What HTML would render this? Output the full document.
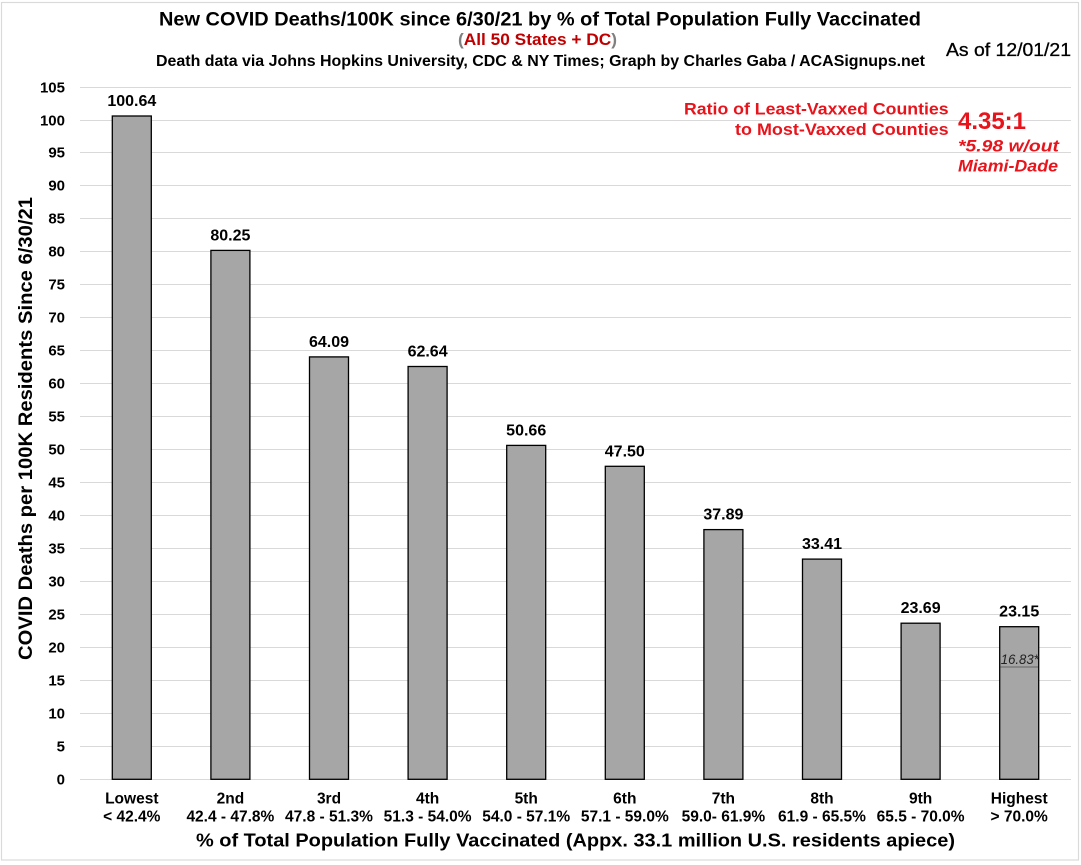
<!DOCTYPE html>
<html>
<head>
<meta charset="utf-8">
<style>
html,body{margin:0;padding:0;background:#fff;}
svg{display:block;}
text{font-family:"Liberation Sans",Arial,sans-serif;}
</style>
</head>
<body>
<svg width="1081" height="865" viewBox="0 0 1081 865" xmlns="http://www.w3.org/2000/svg">
<rect x="0" y="0" width="1081" height="865" fill="#fff"/>
<rect x="1.5" y="2.5" width="1077" height="857.5" fill="none" stroke="#dadada" stroke-width="1.2"/>

<!-- gridlines -->
<g stroke="#d9d9d9" stroke-width="1">
<line x1="80" x2="1071" y1="779.5" y2="779.5"/>
<line x1="80" x2="1071" y1="746.5" y2="746.5"/>
<line x1="80" x2="1071" y1="713.5" y2="713.5"/>
<line x1="80" x2="1071" y1="680.5" y2="680.5"/>
<line x1="80" x2="1071" y1="647.5" y2="647.5"/>
<line x1="80" x2="1071" y1="614.5" y2="614.5"/>
<line x1="80" x2="1071" y1="581.5" y2="581.5"/>
<line x1="80" x2="1071" y1="548.5" y2="548.5"/>
<line x1="80" x2="1071" y1="515.5" y2="515.5"/>
<line x1="80" x2="1071" y1="482.5" y2="482.5"/>
<line x1="80" x2="1071" y1="449.5" y2="449.5"/>
<line x1="80" x2="1071" y1="416.5" y2="416.5"/>
<line x1="80" x2="1071" y1="383.5" y2="383.5"/>
<line x1="80" x2="1071" y1="350.5" y2="350.5"/>
<line x1="80" x2="1071" y1="317.5" y2="317.5"/>
<line x1="80" x2="1071" y1="284.5" y2="284.5"/>
<line x1="80" x2="1071" y1="251.5" y2="251.5"/>
<line x1="80" x2="1071" y1="218.5" y2="218.5"/>
<line x1="80" x2="1071" y1="185.5" y2="185.5"/>
<line x1="80" x2="1071" y1="152.5" y2="152.5"/>
<line x1="80" x2="1071" y1="120.5" y2="120.5"/>
<line x1="80" x2="1071" y1="87.5" y2="87.5"/>
</g>

<!-- y tick labels -->
<g font-size="15" font-weight="bold" fill="#000" text-anchor="end">
<text x="65" y="784.5">0</text>
<text x="65" y="751.5">5</text>
<text x="65" y="718.5">10</text>
<text x="65" y="685.5">15</text>
<text x="65" y="652.5">20</text>
<text x="65" y="619.5">25</text>
<text x="65" y="586.5">30</text>
<text x="65" y="553.5">35</text>
<text x="65" y="520.5">40</text>
<text x="65" y="487.5">45</text>
<text x="65" y="454.5">50</text>
<text x="65" y="421.5">55</text>
<text x="65" y="388.5">60</text>
<text x="65" y="355.5">65</text>
<text x="65" y="322.5">70</text>
<text x="65" y="289.5">75</text>
<text x="65" y="256.5">80</text>
<text x="65" y="223.5">85</text>
<text x="65" y="190.5">90</text>
<text x="65" y="157.5">95</text>
<text x="65" y="125.5">100</text>
<text x="65" y="92.5">105</text>
</g>

<!-- bars -->
<g fill="#a6a6a6" stroke="#000" stroke-width="1.3">
<rect x="112.3" y="116.0" width="39" height="663.3"/>
<rect x="210.9" y="250.4" width="39" height="528.9"/>
<rect x="309.5" y="356.9" width="39" height="422.4"/>
<rect x="408.1" y="366.5" width="39" height="412.8"/>
<rect x="506.7" y="445.4" width="39" height="333.9"/>
<rect x="605.3" y="466.3" width="39" height="313.0"/>
<rect x="703.9" y="529.6" width="39" height="249.7"/>
<rect x="802.5" y="559.1" width="39" height="220.2"/>
<rect x="901.1" y="623.2" width="39" height="156.1"/>
<rect x="999.7" y="626.7" width="39" height="152.6"/>
</g>

<!-- 16.83* marker -->
<line x1="1000.5" x2="1038" y1="667" y2="667" stroke="#7a7a7a" stroke-width="1.6"/>
<text x="1019.8" y="664" font-size="13.5" font-style="italic" fill="#222" text-anchor="middle" textLength="38" lengthAdjust="spacingAndGlyphs">16.83*</text>

<!-- value labels -->
<g font-size="16" font-weight="bold" fill="#000" text-anchor="middle">
<text x="131.8" y="106">100.64</text>
<text x="230.4" y="240.4">80.25</text>
<text x="329.0" y="346.9">64.09</text>
<text x="427.6" y="356.5">62.64</text>
<text x="526.2" y="435.4">50.66</text>
<text x="624.8" y="456.3">47.50</text>
<text x="723.4" y="519.6">37.89</text>
<text x="822.0" y="549.1">33.41</text>
<text x="920.6" y="613.2">23.69</text>
<text x="1019.2" y="616.7">23.15</text>
</g>

<!-- category labels -->
<g font-size="15.5" font-weight="bold" fill="#000" text-anchor="middle">
<text x="131.8" y="803.3">Lowest</text>
<text x="131.8" y="821.7">&lt; 42.4%</text>
<text x="230.4" y="803.3">2nd</text>
<text x="230.4" y="821.7">42.4 - 47.8%</text>
<text x="329.0" y="803.3">3rd</text>
<text x="329.0" y="821.7">47.8 - 51.3%</text>
<text x="427.6" y="803.3">4th</text>
<text x="427.6" y="821.7">51.3 - 54.0%</text>
<text x="526.2" y="803.3">5th</text>
<text x="526.2" y="821.7">54.0 - 57.1%</text>
<text x="624.8" y="803.3">6th</text>
<text x="624.8" y="821.7">57.1 - 59.0%</text>
<text x="723.4" y="803.3">7th</text>
<text x="723.4" y="821.7">59.0- 61.9%</text>
<text x="822.0" y="803.3">8th</text>
<text x="822.0" y="821.7">61.9 - 65.5%</text>
<text x="920.6" y="803.3">9th</text>
<text x="920.6" y="821.7">65.5 - 70.0%</text>
<text x="1019.2" y="803.3">Highest</text>
<text x="1019.2" y="821.7">&gt; 70.0%</text>
</g>

<!-- axis titles -->
<text x="196" y="846.7" font-size="18.5" font-weight="bold" fill="#000" textLength="759" lengthAdjust="spacingAndGlyphs">% of Total Population Fully Vaccinated (Appx. 33.1 million U.S. residents apiece)</text>
<text transform="translate(32,660) rotate(-90)" x="0" y="0" font-size="19" font-weight="bold" fill="#000" textLength="463" lengthAdjust="spacingAndGlyphs">COVID Deaths per 100K Residents Since 6/30/21</text>

<!-- titles -->
<text x="159" y="25.7" font-size="19" font-weight="bold" fill="#000" textLength="762" lengthAdjust="spacingAndGlyphs">New COVID Deaths/100K since 6/30/21 by % of Total Population Fully Vaccinated</text>
<text x="458" y="45" font-size="17" font-weight="bold" textLength="159" lengthAdjust="spacingAndGlyphs"><tspan fill="#808080">(</tspan><tspan fill="#c00000">All 50 States + DC</tspan><tspan fill="#808080">)</tspan></text>
<text x="156" y="66" font-size="15.5" font-weight="bold" fill="#000" textLength="769" lengthAdjust="spacingAndGlyphs">Death data via Johns Hopkins University, CDC &amp; NY Times; Graph by Charles Gaba / ACASignups.net</text>
<text x="946" y="56" font-size="18" fill="#000" stroke="#000" stroke-width="0.3" textLength="125" lengthAdjust="spacingAndGlyphs">As of 12/01/21</text>

<!-- red annotation -->
<g fill="#e8141c" font-weight="bold">
<text x="684" y="114.5" font-size="16.5" textLength="264.6" lengthAdjust="spacingAndGlyphs">Ratio of Least-Vaxxed Counties</text>
<text x="735" y="135" font-size="16.5" textLength="213.6" lengthAdjust="spacingAndGlyphs">to Most-Vaxxed Counties</text>
<text x="958" y="129" font-size="24.5" textLength="68" lengthAdjust="spacingAndGlyphs">4.35:1</text>
<text x="958" y="151.7" font-size="16.5" font-style="italic" textLength="101" lengthAdjust="spacingAndGlyphs">*5.98 w/out</text>
<text x="958" y="171.7" font-size="16.5" font-style="italic" textLength="100" lengthAdjust="spacingAndGlyphs">Miami-Dade</text>
</g>
</svg>
</body>
</html>
